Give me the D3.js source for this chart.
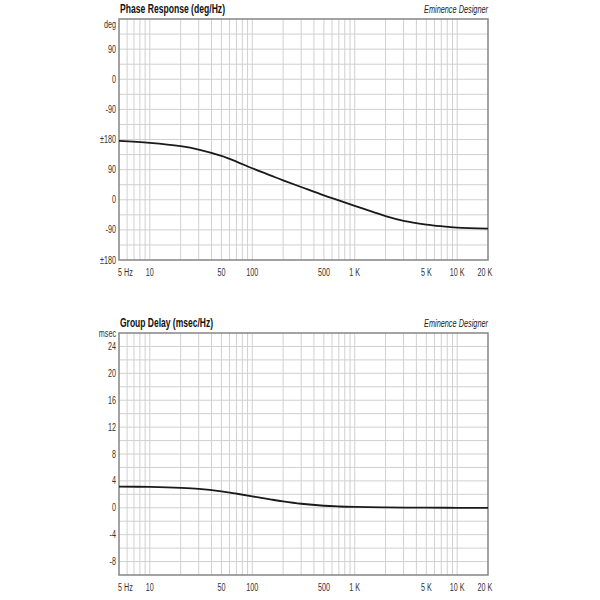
<!DOCTYPE html>
<html><head><meta charset="utf-8">
<script src="https://cdn.jsdelivr.net/npm/d3@7"></script>
<style>
body{margin:0;background:#fff}
text{font-family:"Liberation Sans",Arial,sans-serif}
</style>
</head><body><svg id="c" width="600" height="600"></svg>
<script>
// ---- data ----
const freqTicks = [5, 10, 50, 100, 500, 1000, 5000, 10000, 20000];
const freqTickLabels = ["5 Hz", "10", "50", "100", "500", "1 K", "5 K", "10 K", "20 K"];

const phaseFreq = [5, 10, 20, 30, 50, 70, 100, 150, 200, 300, 500, 700, 1000, 1500, 2000, 3000, 5000, 7000, 10000, 20000];
const phaseDeg  = [-184, -190, -200, -210, -229, -246, -266, -287, -302, -322, -347, -362, -378, -396, -409, -423, -434, -439, -443, -446];
const phaseTicks = [180, 90, 0, -90, -180, -270, -360, -450, -540];
const phaseTickLabels = ["deg", "90", "0", "-90", "±180", "90", "0", "-90", "±180"];

const delayFreq = [5, 10, 20, 30, 50, 70, 100, 150, 200, 300, 500, 700, 1000, 2000, 5000, 10000, 20000];
const delayMs   = [3.15, 3.1, 2.97, 2.82, 2.45, 2.1, 1.7, 1.25, 0.95, 0.6, 0.3, 0.19, 0.12, 0.05, 0.01, 0, 0];
const delayTicks = [26, 24, 20, 16, 12, 8, 4, 0, -4, -8];
const delayTickLabels = ["msec", "24", "20", "16", "12", "8", "4", "0", "-4", "-8"];

// ---- drawing ----
const svg = d3.select("#c");
const L = 119, R = 488;
const x = d3.scaleLog().domain([5, 20000]).range([L, R]);

function condense(sel, factor) {
  sel.each(function () {
    const w = this.getComputedTextLength();
    d3.select(this).attr("textLength", w * factor).attr("lengthAdjust", "spacingAndGlyphs");
  });
}

const gridFreqs = [];
for (let d = 1; d <= 10000; d *= 10) for (let m = 1; m <= 9; m++) {
  const f = m * d; if (f > 5 && f < 20000) gridFreqs.push(f);
}

function panel(opt) {
  const y = d3.scaleLinear().domain(opt.domain).range([opt.bottom, opt.top]);
  const g = svg.append("g");
  const hs = d3.range(opt.domain[0] + opt.minor, opt.domain[1], opt.minor);
  g.append("g").selectAll("line").data(hs).join("line")
    .attr("x1", L).attr("x2", R).attr("y1", d => y(d)).attr("y2", d => y(d))
    .attr("stroke", "#d0d0d0").attr("stroke-width", 1);
  g.append("g").selectAll("line").data(gridFreqs).join("line")
    .attr("x1", d => x(d)).attr("x2", d => x(d)).attr("y1", opt.top).attr("y2", opt.bottom)
    .attr("stroke", "#d0d0d0").attr("stroke-width", 1);
  g.append("rect").attr("x", L).attr("y", opt.top).attr("width", R - L).attr("height", opt.bottom - opt.top)
    .attr("fill", "none").attr("stroke", "#858585").attr("stroke-width", 1.5);
  const yl = g.append("g").selectAll("text").data(opt.ticks).join("text")
    .attr("x", 116).attr("y", (d, i) => y(d) + (i === 0 ? opt.firstDy : 0))
    .attr("dy", "0.35em").attr("text-anchor", "end")
    .attr("font-size", 10).attr("fill", "#333")
    .text((d, i) => opt.labels[i]);
  condense(yl, 0.72);
  const xl = g.append("g").selectAll("text").data(freqTicks).join("text")
    .attr("x", (d, i) => i === 0 ? x(d) - 1 : (i === freqTicks.length - 1 ? x(d) - 3 : x(d)))
    .attr("y", opt.bottom + 12).attr("dy", "0.35em")
    .attr("text-anchor", (d, i) => i === 0 ? "start" : "middle")
    .attr("font-size", 10).attr("fill", "#333")
    .text((d, i) => freqTickLabels[i]);
  condense(xl, 0.72);
  const line = d3.line().x(d => x(d[0])).y(d => y(d[1])).curve(d3.curveCatmullRom.alpha(0.5));
  g.append("path").datum(d3.zip(opt.fx, opt.fy)).attr("d", line)
    .attr("fill", "none").attr("stroke", "#1a1a1a").attr("stroke-width", 1.8);
  g.append("text").attr("x", L + 1).attr("y", opt.top - 6)
    .attr("font-size", 12.5).attr("font-weight", "bold").attr("fill", "#111")
    .attr("textLength", opt.titleW).attr("lengthAdjust", "spacingAndGlyphs")
    .text(opt.title);
  g.append("text").attr("x", R).attr("y", opt.top - 6).attr("text-anchor", "end")
    .attr("font-size", 10).attr("font-style", "italic").attr("fill", "#222")
    .attr("textLength", 64).attr("lengthAdjust", "spacingAndGlyphs")
    .text("Eminence Designer");
}

panel({top: 19, bottom: 260, domain: [-540, 180], minor: 45,
  ticks: phaseTicks, labels: phaseTickLabels, firstDy: 5,
  fx: phaseFreq, fy: phaseDeg, title: "Phase Response (deg/Hz)", titleW: 105});
panel({top: 333, bottom: 575, domain: [-10, 26], minor: 2,
  ticks: delayTicks, labels: delayTickLabels, firstDy: 0,
  fx: delayFreq, fy: delayMs, title: "Group Delay (msec/Hz)", titleW: 93});
</script>
</body></html>
